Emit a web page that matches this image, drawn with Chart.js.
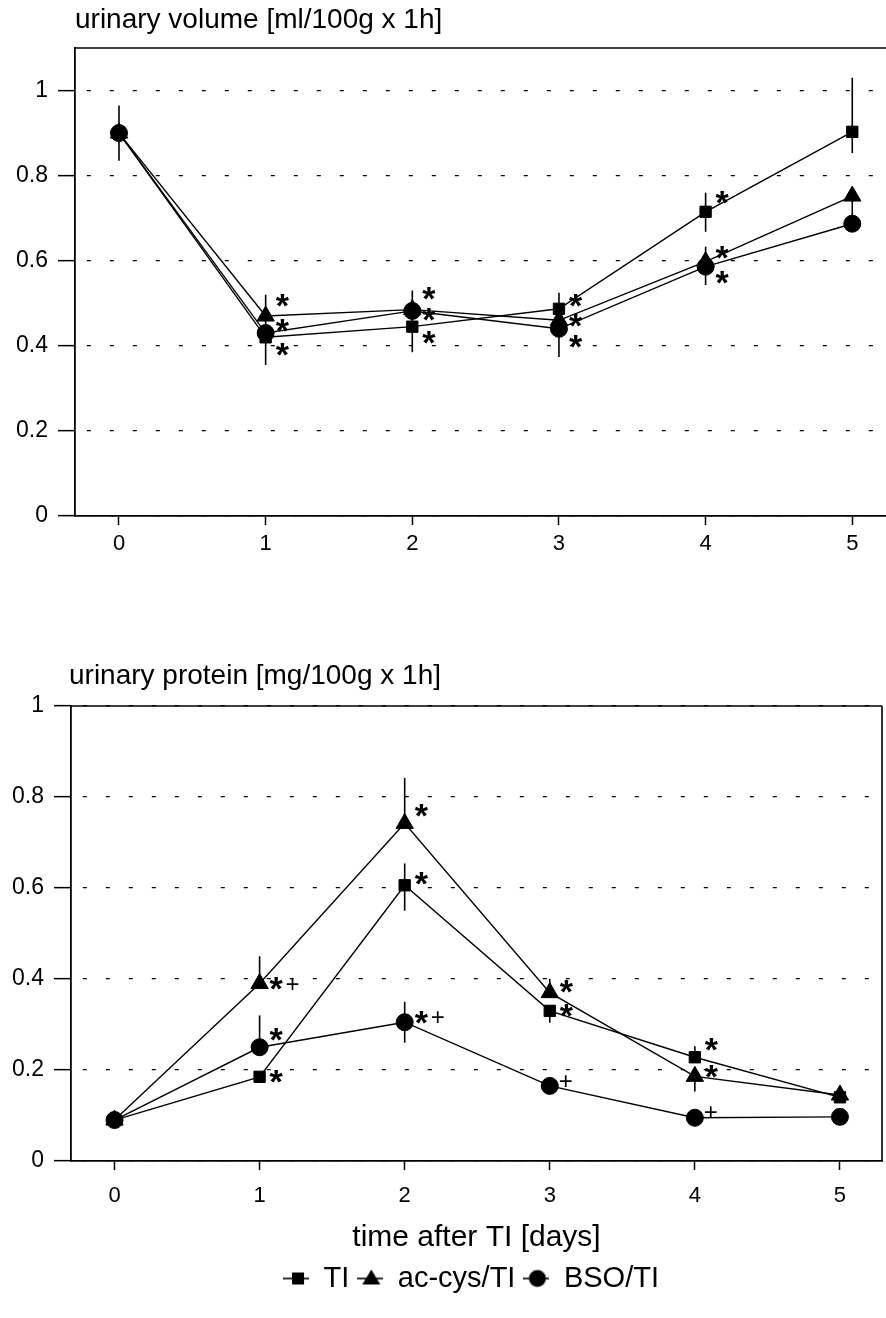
<!DOCTYPE html>
<html>
<head>
<meta charset="utf-8">
<script src="https://cdn.jsdelivr.net/npm/chart.js"></script>
<style>
  body { margin: 0; background: #fff; }
  #volWrap { position: absolute; left: 0; top: 0; }
  #protWrap { position: absolute; left: 0; top: 630px; }
</style>
</head>
<body>
<div id="volWrap"><canvas id="volChart" width="886" height="600"></canvas></div>
<div id="protWrap"><canvas id="protChart" width="886" height="688"></canvas></div>
<script>
  const days = [0, 1, 2, 3, 4, 5];
  const yTicks = [0, 0.2, 0.4, 0.6, 0.8, 1];
  const seriesNames = ['TI', 'ac-cys/TI', 'BSO/TI'];

  /* urinary volume [ml/100g x 1h] */
  const volTI = [0.90, 0.42, 0.445, 0.487, 0.715, 0.903];
  const volTIUp = [0.065, 0.10, 0.085, 0, 0.045, 0.127];
  const volTIDown = [0.065, 0.065, 0.06, 0, 0.047, 0.05];
  const volAc = [0.90, 0.47, 0.485, 0.46, 0.598, 0.752];
  const volAcUp = [0, 0, 0, 0, 0, 0];
  const volAcDown = [0, 0, 0, 0, 0, 0];
  const volBso = [0.90, 0.43, 0.482, 0.44, 0.586, 0.687];
  const volBsoUp = [0, 0, 0, 0.085, 0.047, 0.06];
  const volBsoDown = [0, 0, 0, 0.066, 0.043, 0];
  const volTIMarks = ['', '*', '*', '*', '*', ''];
  const volAcMarks = ['', '*', '*', '*', '*', ''];
  const volBsoMarks = ['', '*', '*', '*', '*', ''];

  /* urinary protein [mg/100g x 1h] */
  const protTI = [0.09, 0.185, 0.606, 0.33, 0.228, 0.14];
  const protTIUp = [0, 0, 0.048, 0, 0.024, 0];
  const protTIDown = [0, 0, 0.056, 0.026, 0, 0];
  const protAc = [0.09, 0.39, 0.742, 0.37, 0.186, 0.145];
  const protAcUp = [0, 0.06, 0.1, 0.03, 0, 0];
  const protAcDown = [0, 0, 0, 0, 0.033, 0];
  const protBso = [0.09, 0.25, 0.305, 0.165, 0.095, 0.097];
  const protBsoUp = [0, 0.07, 0.045, 0, 0, 0];
  const protBsoDown = [0, 0, 0.045, 0, 0, 0];
  const protTIMarks = ['', '*', '*', '*', '*', ''];
  const protAcMarks = ['', '*+', '*', '*', '*', ''];
  const protBsoMarks = ['', '*', '*+', '+', '+', ''];

  // where the significance marks sit relative to their point (px)
  const volTIDy = [0, 12, 11, -8, -14, 0];
  const volAcDy = [0, -16, -16, 0, -9, 0];
  const volBsoDy = [0, -8, 4, 13, 11, 0];
  const protTIDy = [0, 0, -7, 0, -13, 0];
  const protAcDy = [0, 0, -13, -6, -5, 0];
  const protBsoDy = [0, -13, -5, -5, -6, 0];

  const FONT = 'Liberation Sans, Arial, sans-serif';
  const styles = ['rect', 'triangle', 'circle'];

  function pts(vals) {
    return days.map((d, i) => ({x: d, y: vals[i]}));
  }

  /* frame (top and right edge) + heading */
  const frameLines = {
    id: 'frameLines',
    afterLayout(chart, args, opts) {
      // nudge the legend to the right, like the original
      if (opts.legendShift && chart.legend) {
        chart.legend.left += opts.legendShift;
        chart.legend.right += opts.legendShift;
      }
    },
    beforeDatasetsDraw(chart, args, opts) {
      const {ctx, chartArea: a} = chart;
      ctx.save();
      ctx.strokeStyle = '#000';
      ctx.lineWidth = 1.6;
      ctx.beginPath();
      ctx.moveTo(a.left, a.top);
      ctx.lineTo(a.right, a.top);
      if (opts.right) {
        ctx.moveTo(a.right, a.top);
        ctx.lineTo(a.right, a.bottom);
      }
      ctx.stroke();
      ctx.fillStyle = '#000';
      ctx.font = '28px ' + FONT;
      ctx.textBaseline = 'alphabetic';
      ctx.fillText(opts.header, a.left + (opts.headerDx || 0), a.top - opts.headerGap);
      ctx.restore();
    }
  };

  /* vertical error bars, drawn behind the markers */
  const errorBars = {
    id: 'errorBars',
    beforeDatasetsDraw(chart) {
      const {ctx, scales: {x, y}} = chart;
      ctx.save();
      ctx.strokeStyle = '#000';
      ctx.lineWidth = 1.6;
      chart.data.datasets.forEach(ds => {
        ds.data.forEach((p, i) => {
          const up = ds.errUp[i], dn = ds.errDown[i];
          if (!up && !dn) return;
          const px = x.getPixelForValue(p.x);
          ctx.beginPath();
          ctx.moveTo(px, y.getPixelForValue(p.y + up));
          ctx.lineTo(px, y.getPixelForValue(p.y - dn));
          ctx.stroke();
        });
      });
      ctx.restore();
    }
  };

  /* significance marks: * and + */
  const sigMarks = {
    id: 'sigMarks',
    afterDatasetsDraw(chart) {
      const {ctx, scales: {x, y}} = chart;
      ctx.save();
      ctx.fillStyle = '#000';
      ctx.textBaseline = 'alphabetic';
      chart.data.datasets.forEach(ds => {
        ds.data.forEach((p, i) => {
          const txt = ds.marks[i];
          if (!txt) return;
          let cx = x.getPixelForValue(p.x) + 10;
          const cy = y.getPixelForValue(p.y) + ds.markDy[i];
          for (const ch of txt) {
            ctx.font = ch === '*' ? 'bold 34px ' + FONT : '24px ' + FONT;
            const m = ctx.measureText(ch);
            const w = m.actualBoundingBoxRight + m.actualBoundingBoxLeft;
            const mid = (m.actualBoundingBoxAscent - m.actualBoundingBoxDescent) / 2;
            ctx.fillText(ch, cx + m.actualBoundingBoxLeft, cy + mid);
            cx += w + 3;
          }
        });
      });
      ctx.restore();
    }
  };

  function legendIcon(style) {
    const c = document.createElement('canvas');
    c.width = 26; c.height = 22;
    const g = c.getContext('2d');
    g.strokeStyle = '#000'; g.fillStyle = '#000'; g.lineWidth = 1.6;
    g.beginPath(); g.moveTo(0, 11); g.lineTo(26, 11); g.stroke();
    g.beginPath();
    if (style === 'rect') {
      g.rect(9, 5, 12, 12);
    } else if (style === 'triangle') {
      g.moveTo(14, 2); g.lineTo(23, 17); g.lineTo(5, 17); g.closePath();
    } else {
      g.arc(14, 11, 8.5, 0, Math.PI * 2);
    }
    g.fill();
    return c;
  }
  const legendIcons = styles.map(legendIcon);

  function makeSet(i, vals, up, down, marks, dy, radii) {
    return {
      label: seriesNames[i],
      data: pts(vals),
      errUp: up,
      errDown: down,
      marks: marks,
      markDy: dy,
      borderColor: '#000',
      backgroundColor: '#000',
      borderWidth: 1.4,
      pointStyle: styles[i],
      pointRadius: radii[i],
      pointHoverRadius: radii[i],
      pointBackgroundColor: '#000',
      pointBorderColor: '#000',
      pointBorderWidth: 1,
      tension: 0
    };
  }

  function scalesFor(xMax, yMax, yWidth, xHeight, xTitle) {
    return {
      x: {
        type: 'linear',
        min: -0.3,
        max: xMax,
        afterBuildTicks: s => { s.ticks = days.map(v => ({value: v})); },
        afterFit: s => { s.height = xHeight; s.paddingLeft = 0; s.paddingRight = 0; },
        grid: {display: true, drawOnChartArea: false, drawTicks: true, tickLength: 9, tickColor: '#000', tickWidth: 1.5},
        border: {display: true, color: '#000', width: 1.8},
        ticks: {color: '#000', padding: xTitle ? 13 : 6, font: {family: FONT, size: 22}, callback: v => String(v)},
        title: xTitle ? {display: true, text: xTitle, color: '#000', font: {family: FONT, size: 30}, padding: {top: 7, bottom: 0}} : {display: false}
      },
      y: {
        type: 'linear',
        min: 0,
        max: yMax,
        afterBuildTicks: s => { s.ticks = yTicks.map(v => ({value: v})); },
        afterFit: s => { s.width = yWidth; s.paddingTop = 0; s.paddingBottom = 0; },
        grid: {color: '#000', lineWidth: 1.3, drawTicks: true, tickLength: 17, tickColor: '#000', tickWidth: 1.5, tickBorderDash: []},
        border: {display: true, color: '#000', width: 1.8, dash: [4, 19], dashOffset: 12},
        ticks: {color: '#000', padding: 10, font: {family: FONT, size: 23}, callback: v => String(+v.toFixed(1))}
      }
    };
  }

  const volRadii = [8, 10, 8.5];
  const dataVol = {
    datasets: [
      makeSet(0, volTI, volTIUp, volTIDown, volTIMarks, volTIDy, volRadii),
      makeSet(1, volAc, volAcUp, volAcDown, volAcMarks, volAcDy, volRadii),
      makeSet(2, volBso, volBsoUp, volBsoDown, volBsoMarks, volBsoDy, volRadii)
    ]
  };

  const configVol = {
    type: 'line',
    data: dataVol,
    options: {
      responsive: false,
      animation: false,
      devicePixelRatio: 1,
      layout: {autoPadding: false, padding: {top: 48, left: 0, right: 0, bottom: 0}},
      scales: scalesFor(5.23, 1.1, 75, 84, null),
      plugins: {
        legend: {display: false},
        tooltip: {enabled: false},
        frameLines: {header: 'urinary volume [ml/100g x 1h]', headerGap: 20, right: false}
      }
    },
    plugins: [frameLines, errorBars, sigMarks]
  };

  const volChart = new Chart(document.getElementById('volChart'), configVol);

  /* urinary protein */
  const protRadii = [8, 10, 8.5];
  const dataProt = {
    datasets: [
      makeSet(0, protTI, protTIUp, protTIDown, protTIMarks, protTIDy, protRadii),
      makeSet(1, protAc, protAcUp, protAcDown, protAcMarks, protAcDy, protRadii),
      makeSet(2, protBso, protBsoUp, protBsoDown, protBsoMarks, protBsoDy, protRadii)
    ]
  };

  const configProt = {
    type: 'line',
    data: dataProt,
    options: {
      responsive: false,
      animation: false,
      devicePixelRatio: 1,
      layout: {autoPadding: false, padding: {top: 76, left: 0, right: 4, bottom: 15}},
      scales: scalesFor(5.29, 1, 71, 95, 'time after TI [days]'),
      plugins: {
        tooltip: {enabled: false},
        frameLines: {header: 'urinary protein [mg/100g x 1h]', headerGap: 22, headerDx: -2, right: true, legendShift: 30},
        legend: {
          display: true,
          position: 'bottom',
          labels: {
            usePointStyle: true,
            pointStyleWidth: 26,
            padding: 8,
            color: '#000',
            font: {family: FONT, size: 29},
            generateLabels: chart => chart.data.datasets.map((ds, i) => ({
              text: ds.label,
              pointStyle: legendIcons[i],
              fillStyle: '#000',
              strokeStyle: '#000',
              lineWidth: 0,
              hidden: false,
              datasetIndex: i
            }))
          }
        }
      }
    },
    plugins: [frameLines, errorBars, sigMarks]
  };

  const protChart = new Chart(document.getElementById('protChart'), configProt);
</script>
</body>
</html>
